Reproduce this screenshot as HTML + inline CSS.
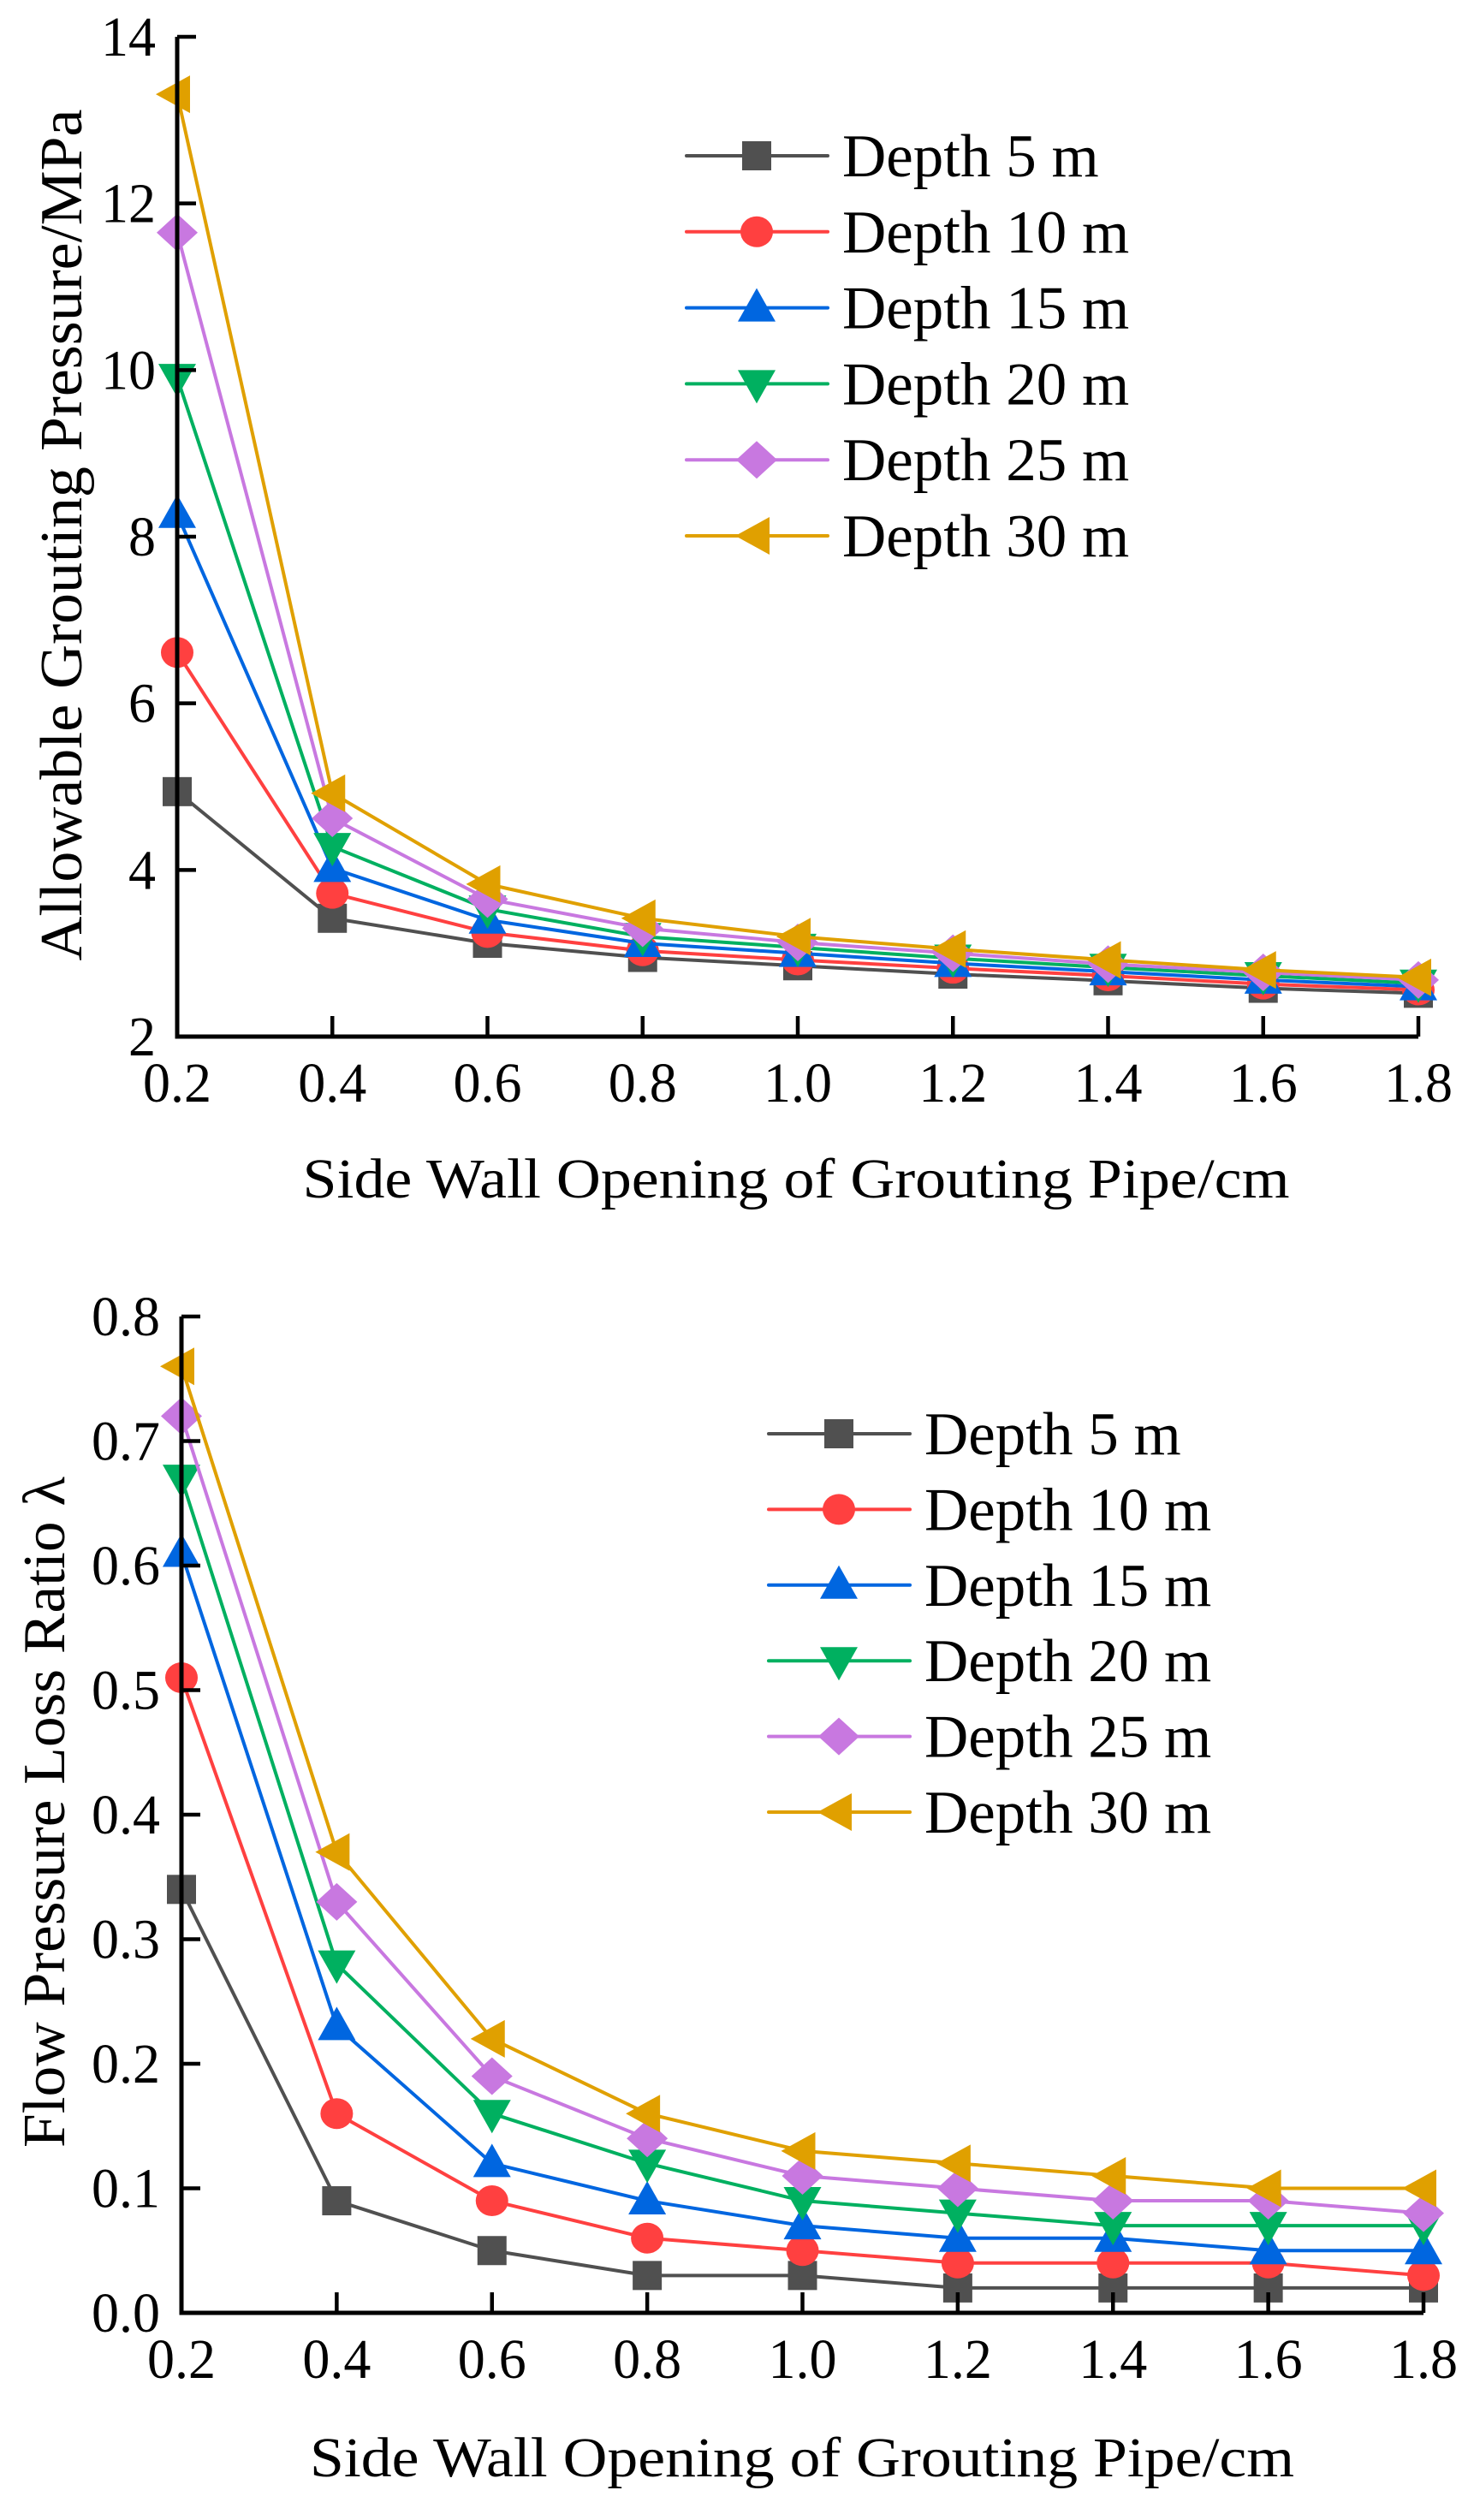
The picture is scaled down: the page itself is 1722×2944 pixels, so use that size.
<!DOCTYPE html>
<html><head><meta charset="utf-8"><style>
html,body{margin:0;padding:0;background:#fff;}
svg{display:block;font-family:"Liberation Serif","Times New Roman",serif;}
</style></head><body>
<svg id="fig" width="1722" height="2944" viewBox="0 0 1722 2944" xmlns="http://www.w3.org/2000/svg"></svg>
<script>
const categories = [0.2,0.4,0.6,0.8,1.0,1.2,1.4,1.6,1.8];
const xTickLabels = ["0.2","0.4","0.6","0.8","1.0","1.2","1.4","1.6","1.8"];
const seriesNames = ["Depth 5 m","Depth 10 m","Depth 15 m","Depth 20 m","Depth 25 m","Depth 30 m"];
// top chart: allowable grouting pressure (MPa)
const pDepth5  = [4.94,3.42,3.12,2.95,2.85,2.75,2.67,2.58,2.52];
const pDepth10 = [6.61,3.72,3.25,3.03,2.92,2.82,2.73,2.63,2.56];
const pDepth15 = [8.27,4.02,3.40,3.12,3.00,2.88,2.78,2.68,2.60];
const pDepth20 = [9.91,4.28,3.53,3.20,3.07,2.94,2.83,2.73,2.64];
const pDepth25 = [11.65,4.62,3.65,3.30,3.13,3.00,2.87,2.77,2.68];
const pDepth30 = [13.31,4.92,3.83,3.42,3.20,3.05,2.92,2.80,2.71];
const yTicksTop = [2,4,6,8,10,12,14];
// bottom chart: flow pressure loss ratio
const lDepth5  = [0.34,0.09,0.05,0.03,0.03,0.02,0.02,0.02,0.02];
const lDepth10 = [0.51,0.16,0.09,0.06,0.05,0.04,0.04,0.04,0.03];
const lDepth15 = [0.61,0.23,0.12,0.09,0.07,0.06,0.06,0.05,0.05];
const lDepth20 = [0.67,0.28,0.16,0.12,0.09,0.08,0.07,0.07,0.07];
const lDepth25 = [0.72,0.33,0.19,0.14,0.11,0.10,0.09,0.09,0.08];
const lDepth30 = [0.76,0.37,0.22,0.16,0.13,0.12,0.11,0.10,0.10];
const yTicksBottom = [0.0,0.1,0.2,0.3,0.4,0.5,0.6,0.7,0.8];
const yTickLabelsBottom = ["0.0","0.1","0.2","0.3","0.4","0.5","0.6","0.7","0.8"];

const colors = ["#505050","#ff4040","#0066e0","#00b060","#c878e0","#e0a000"];
const shapes = ["square","circle","up","down","diamond","left"];
const NS = "http://www.w3.org/2000/svg";
const svg = document.getElementById("fig");
function el(tag, attrs, parent){const e=document.createElementNS(NS,tag);for(const k in attrs)e.setAttribute(k,attrs[k]);(parent||svg).appendChild(e);return e;}

function marker(shape,cx,cy,color,g){
  let m;
  if(shape==="square") m=el("rect",{x:cx-17,y:cy-17,width:34,height:34,fill:color},g);
  else if(shape==="circle") m=el("ellipse",{cx:cx,cy:cy,rx:19,ry:18,fill:color},g);
  else if(shape==="up") m=el("polygon",{points:`${cx},${cy-23} ${cx+22},${cy+16} ${cx-22},${cy+16}`,fill:color},g);
  else if(shape==="down") m=el("polygon",{points:`${cx},${cy+23} ${cx+22},${cy-16} ${cx-22},${cy-16}`,fill:color},g);
  else if(shape==="diamond") m=el("polygon",{points:`${cx},${cy-22} ${cx+24},${cy} ${cx},${cy+22} ${cx-24},${cy}`,fill:color},g);
  else m=el("polygon",{points:`${cx-25},${cy} ${cx+15},${cy-22} ${cx+15},${cy+22}`,fill:color},g);
  return m;
}

function drawChart(cfg){
  const g=el("g",{});
  
  
  const xS=v=>cfg.x0+(v-categories[0])/(categories[categories.length-1]-categories[0])*(cfg.x1-cfg.x0);
  const yS=v=>cfg.yb-(v-cfg.ymin)/(cfg.ymax-cfg.ymin)*(cfg.yb-cfg.yt);
  cfg.series.forEach((vals,si)=>{
    const sg=el("g",{},g);
    
    
    const pts=vals.map((v,i)=>xS(categories[i])+","+yS(v)).join(" ");
    const pl=el("polyline",{points:pts,fill:"none",stroke:colors[si],"stroke-width":4,"stroke-linejoin":"round"},sg);
    
    
    vals.forEach((v,i)=>{
      const m=marker(shapes[si],xS(categories[i]),yS(v),colors[si],sg);
      
      
    });
  });
  const ax=el("path",{d:`M${cfg.x0},${cfg.yt} V${cfg.yb} H${cfg.x1}`,fill:"none",stroke:"#000","stroke-width":5},g);
  
  
  cfg.yTicks.forEach((t,i)=>{
    const y=yS(t);
    const tk=el("line",{x1:cfg.x0,x2:cfg.x0+22,y1:y,y2:y,stroke:"#000","stroke-width":4.5},g);
    
    
    const tl=el("text",{x:0,y:0,"font-size":64,"text-anchor":"end",transform:`translate(${cfg.x0-25},${y+22}) scale(1,1.02)`},g);
    tl.textContent=cfg.yLabels[i];
    
    
  });
  categories.forEach((c,i)=>{
    const x=xS(c);
    if(i>0){
      const tk=el("line",{x1:x,x2:x,y1:cfg.yb,y2:cfg.yb-24,stroke:"#000","stroke-width":4.5},g);
      
      
    }
    const tl=el("text",{x:0,y:0,"font-size":64,"text-anchor":"middle",transform:`translate(${x},${cfg.yb+76}) scale(1,1.02)`},g);
    tl.textContent=xTickLabels[i];
    
    
  });
  const xt=el("text",{x:cfg.xtCenter,y:cfg.xtBase,"font-size":66,"text-anchor":"middle",textLength:cfg.xtLen,lengthAdjust:"spacingAndGlyphs"},g);
  xt.textContent="Side Wall Opening of Grouting Pipe/cm";
  
  
  const yt=el("text",{x:0,y:0,"font-size":70,"text-anchor":"middle",textLength:cfg.ytLen,lengthAdjust:"spacingAndGlyphs",transform:`translate(${cfg.ytX},${cfg.ytY}) rotate(-90)`},g);
  yt.textContent=cfg.yTitle;
  
  
  const lg=el("g",{},g);
  
  
  seriesNames.forEach((n,si)=>{
    const y=cfg.legY+si*cfg.legStep;
    const eg=el("g",{},lg);
    
    
    el("line",{x1:cfg.legX,x2:cfg.legX+165,y1:y,y2:y,stroke:colors[si],"stroke-width":4,"stroke-linecap":"round"},eg);
    marker(shapes[si],cfg.legX+82,y,colors[si],eg);
    const t=el("text",{x:cfg.legX+182,y:y+24,"font-size":71},eg);
    t.textContent=n;
  });
}

drawChart({name:"pressure-chart",x0:207,x1:1657,yt:43,yb:1211,ymin:2,ymax:14,
  series:[pDepth5,pDepth10,pDepth15,pDepth20,pDepth25,pDepth30],
  yTicks:yTicksTop,yLabels:yTicksTop.map(String),
  xtCenter:930,xtBase:1399,xtLen:1153,
  yTitle:"Allowable Grouting Pressure/MPa",ytX:95,ytY:625,ytLen:995,
  legX:802,legY:182,legStep:88.8});
drawChart({name:"loss-ratio-chart",x0:212,x1:1663,yt:1538,yb:2702,ymin:0,ymax:0.8,
  series:[lDepth5,lDepth10,lDepth15,lDepth20,lDepth25,lDepth30],
  yTicks:yTicksBottom,yLabels:yTickLabelsBottom,
  xtCenter:937,xtBase:2893,xtLen:1150,
  yTitle:"Flow Pressure Loss Ratio \u03bb",ytX:75,ytY:2117,ytLen:784,
  legX:898,legY:1675,legStep:88.4});
</script>
</body></html>
